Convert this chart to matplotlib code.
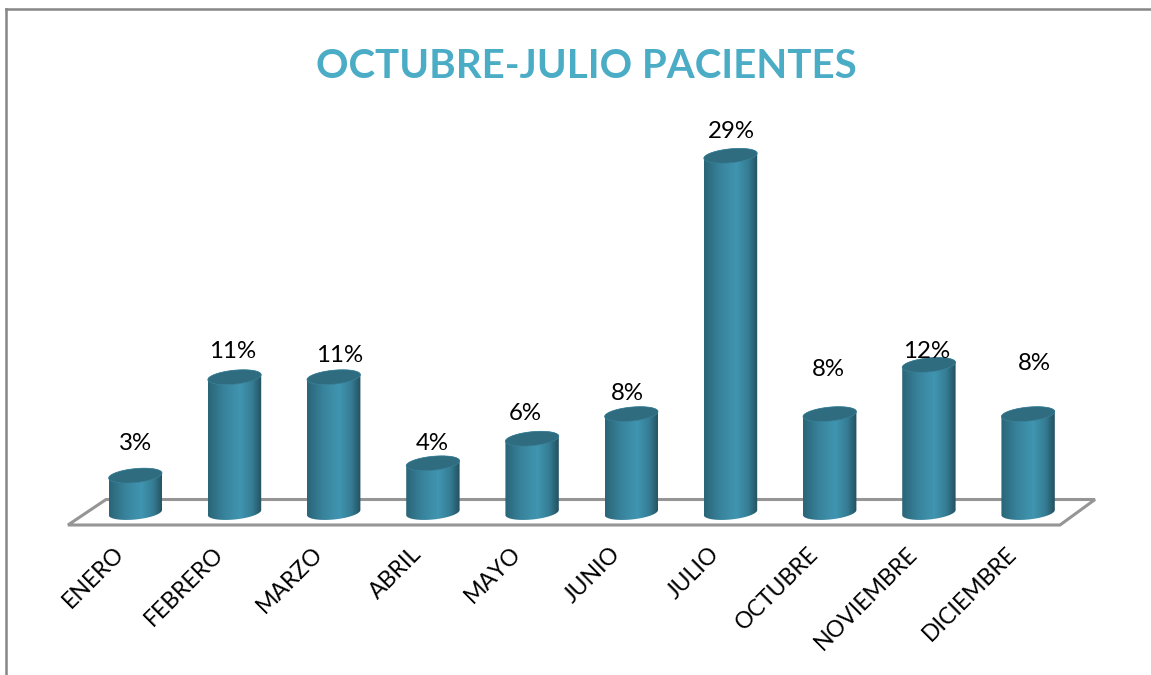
import numpy as np
import matplotlib.pyplot as plt
from matplotlib.colors import LinearSegmentedColormap
from matplotlib.patches import Polygon

plt.rcParams['font.family'] = ['Lato', 'DejaVu Sans']

# datos
meses = ['ENERO', 'FEBRERO', 'MARZO', 'ABRIL', 'MAYO', 'JUNIO', 'JULIO',
         'OCTUBRE', 'NOVIEMBRE', 'DICIEMBRE']
valores = [3, 11, 11, 4, 6, 8, 29, 8, 12, 8]
titulo = 'OCTUBRE-JULIO PACIENTES'

# posicion de las etiquetas, en pixeles de la imagen
etiqueta_x = [135, 233, 340, 432, 525, 627, 731, 828, 927, 1034]
etiqueta_y = [444, 352, 355, 443, 414, 394, 132, 370, 351, 364]

W, H = 1151, 675
X0, PASO = 135.3, 99.2     # centro de la primera barra y separacion
BASE, ESCALA = 512.5, 12.3  # linea base y pixeles por punto


def px(x, y):
    return (x - X0) / PASO, (BASE - y) / ESCALA


fig = plt.figure(figsize=(W / 100, H / 100), dpi=100)
ax = fig.add_axes([0, 0, 1, 1])
ax.axis('off')

# marco
for a, b in [((6, 675), (6, 9)), ((6, 9), (1151, 9))]:
    p1, p2 = px(*a), px(*b)
    ax.plot([p1[0], p2[0]], [p1[1], p2[1]], color='#868686', lw=1.8, solid_capstyle='projecting')

# piso
piso = [px(68, 525), px(106, 499.5), px(1095, 499.5), px(1060, 525)]
ax.add_patch(Polygon(piso, closed=True, fill=False, edgecolor='#959595', lw=2.2, zorder=1))

grad = LinearSegmentedColormap.from_list(
    'cil', [(0, '#2a6577'), (0.3, '#38839c'), (0.6, '#4095b1'), (0.82, '#357d94'), (1, '#23505e')])
g = np.linspace(0, 1, 256).reshape(1, -1)

ancho = 26.7 / PASO   # semieje horizontal
alto = 7.0 / ESCALA   # semieje vertical
incl = 2.5 / ESCALA   # inclinacion de la elipse
t = np.linspace(0, 2 * np.pi, 120)

for i, v in enumerate(valores):
    ex = i + ancho * np.cos(t)
    ey_sup = v + alto * np.sin(t) + incl * np.cos(t)
    ey_inf = alto * np.sin(t) + incl * np.cos(t)

    # cuerpo: de izquierda a derecha por la elipse inferior y vuelta por arriba
    mitad = (t >= np.pi)
    inf = np.column_stack([ex[mitad], ey_inf[mitad]])
    sup = np.column_stack([ex[~mitad], ey_sup[~mitad]])
    cuerpo = Polygon(np.vstack([inf, sup]), closed=True, transform=ax.transData,
                     facecolor='none', edgecolor='none')
    ax.add_patch(cuerpo)
    im = ax.imshow(g, extent=[i - ancho, i + ancho, -2, v + 2], aspect='auto', cmap=grad,
                   interpolation='bilinear', zorder=2)
    im.set_clip_path(cuerpo)

    # tapa
    ax.add_patch(Polygon(np.column_stack([ex, ey_sup]), closed=True, facecolor='#2f6c80',
                         edgecolor='#3a8199', lw=0.5, zorder=3))

    lx, ly = px(etiqueta_x[i], etiqueta_y[i])
    ax.text(lx, ly, f'{v}%', fontsize=17.3, color='black', ha='center', va='center', zorder=4)

    # meses girados
    mx, my = px(X0 + i * PASO - 22, 543)
    ax.text(mx, my, meses[i], fontsize=16.6, color='black', rotation=45, ha='right', va='top',
            rotation_mode='anchor', zorder=4)

tx, ty = px(586, 66)
ax.text(tx, ty, titulo, fontsize=29, fontweight='bold', color='#4bacc6', ha='center', va='center')

x_a, y_a = px(0, H)
x_b, y_b = px(W, 0)
ax.set_xlim(x_a, x_b)
ax.set_ylim(y_a, y_b)

fig.savefig('out.png', dpi=100)
